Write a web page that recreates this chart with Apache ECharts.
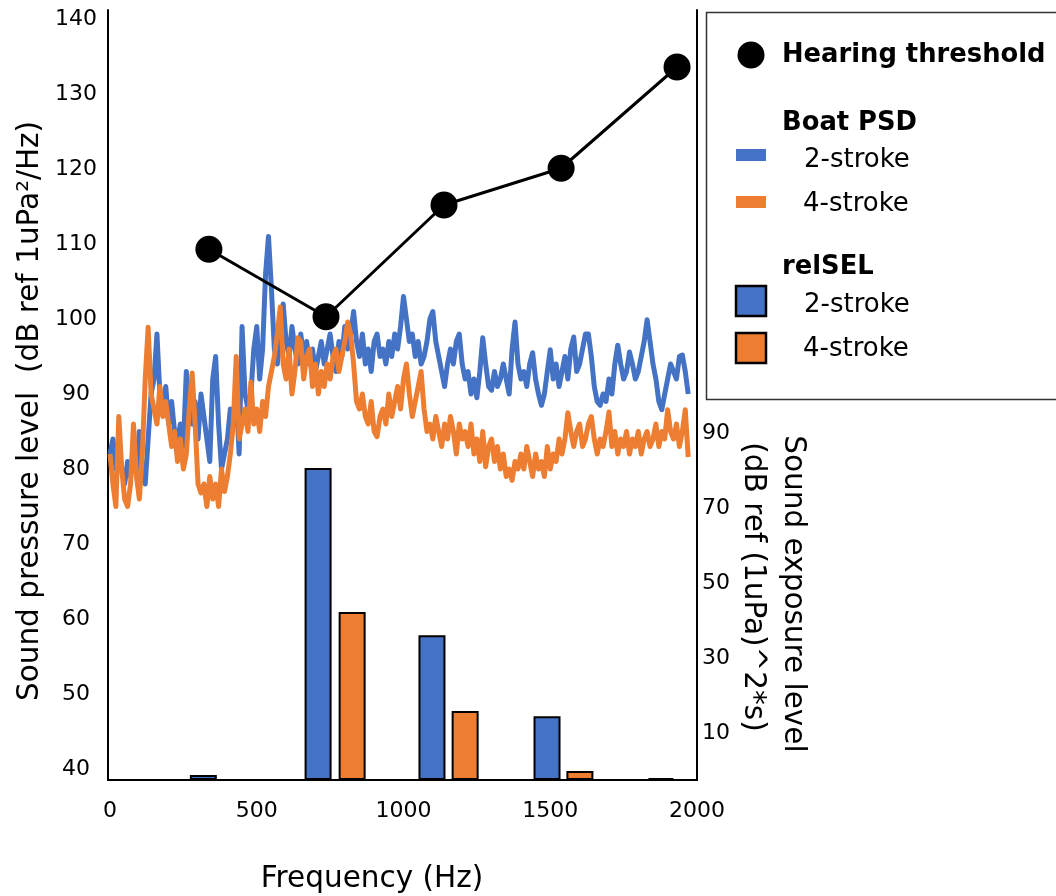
<!DOCTYPE html>
<html>
<head>
<meta charset="utf-8">
<title>Boat noise vs hearing threshold</title>
<script src="https://cdn.jsdelivr.net/npm/echarts@6/dist/echarts.min.js"></script>
<style>
  html, body { margin: 0; padding: 0; background: #fff; }
  #main { width: 1056px; height: 896px; }
</style>
</head>
<body>
<div id="main"></div>
<script>
// frequency grid of the PSD curves (Hz)
const psdFreq = [
  0, 10, 20, 30, 40, 50, 60, 70, 80, 90,
  100, 110, 120, 130, 140, 150, 160, 170, 180, 190,
  200, 210, 220, 230, 240, 250, 260, 270, 280, 290,
  300, 310, 320, 330, 340, 350, 360, 370, 380, 390,
  400, 410, 420, 430, 440, 450, 460, 470, 480, 490,
  500, 510, 520, 530, 540, 550, 560, 570, 580, 590,
  600, 610, 620, 630, 640, 650, 660, 670, 680, 690,
  700, 710, 720, 730, 740, 750, 760, 770, 780, 790,
  800, 810, 820, 830, 840, 850, 860, 870, 880, 890,
  900, 910, 920, 930, 940, 950, 960, 970, 980, 990,
  1000, 1010, 1020, 1030, 1040, 1050, 1060, 1070, 1080, 1090,
  1100, 1110, 1120, 1130, 1140, 1150, 1160, 1170, 1180, 1190,
  1200, 1210, 1220, 1230, 1240, 1250, 1260, 1270, 1280, 1290,
  1300, 1310, 1320, 1330, 1340, 1350, 1360, 1370, 1380, 1390,
  1400, 1410, 1420, 1430, 1440, 1450, 1460, 1470, 1480, 1490,
  1500, 1510, 1520, 1530, 1540, 1550, 1560, 1570, 1580, 1590,
  1600, 1610, 1620, 1630, 1640, 1650, 1660, 1670, 1680, 1690,
  1700, 1710, 1720, 1730, 1740, 1750, 1760, 1770, 1780, 1790,
  1800, 1810, 1820, 1830, 1840, 1850, 1860, 1870, 1880, 1890,
  1900, 1910, 1920, 1930, 1940, 1950, 1960, 1970
];

// Boat PSD, 2-stroke (dB ref 1uPa^2/Hz)
const psd2Stroke = [
  82, 84, 80, 83, 80, 78, 81, 79, 82, 80,
  85, 80, 78, 84, 90, 92, 98, 90, 88, 91,
  86, 89, 85, 84, 86, 83, 93, 88, 86, 89,
  84, 90, 87, 84, 81, 92, 95, 86, 80, 82,
  84, 88, 86, 90, 82, 99, 90, 88, 90, 96,
  99, 92, 96, 106, 111, 104, 96, 94, 98, 102,
  97, 95, 99, 96, 94, 98, 95, 97, 94, 96,
  93, 95, 97, 94, 96, 98, 95, 93, 97, 95,
  99, 96, 98, 101, 97, 95, 98, 94, 96, 93,
  97, 98, 95, 96, 94, 97, 95, 98, 96, 99,
  103, 100, 97, 98, 95, 97, 94, 95, 97, 100,
  101, 97, 95, 93, 91, 94, 96, 94, 97, 98,
  94, 92, 93, 90, 92, 89.5, 93, 97.5, 94, 91,
  90.5, 93, 91, 92, 94, 92, 90, 96, 99.6, 94,
  92, 93, 91, 94, 95.5, 92, 90, 88.5, 90, 93,
  95.9, 92, 94, 91, 93, 95, 92, 96, 97.6, 93,
  94, 96, 98, 98, 95, 91, 89, 88.5, 90, 89,
  92, 90, 94, 96.5, 94, 92, 93, 95.6, 94, 92,
  93, 95, 97, 99.9, 97, 94, 92, 89, 87.9, 90,
  92, 94, 93, 92, 95, 95.2, 93, 90
];

// Boat PSD, 4-stroke (dB ref 1uPa^2/Hz)
const psd4Stroke = [
  82, 78, 75, 87, 80, 76, 75, 78, 86, 79,
  76, 82, 92, 98.9, 90, 88, 86, 91, 87, 89,
  86, 83, 85, 81, 84, 80, 82, 88, 92.8, 86,
  78, 76.8, 78, 75, 79, 76, 78, 75, 80, 77,
  79, 82, 86, 95, 84, 86, 88, 85, 91.6, 86,
  88, 85, 89, 87, 91, 93, 95, 98, 101.6, 94,
  92, 96, 90, 93, 97.5, 97, 92, 95, 96, 91,
  94, 90, 93, 91, 94, 92, 95, 96, 93, 95,
  97, 99.6, 98, 94, 89, 88, 90, 87, 86, 89,
  85, 84.3, 87, 88, 86, 90, 87, 89, 91, 88,
  92, 94, 90, 87, 89, 91, 93, 88, 85, 86,
  84, 87, 85, 83, 86, 84, 87, 85, 82, 86,
  84, 85, 83, 86, 82, 84, 81, 85, 80.3, 83,
  84, 81, 83, 80, 82, 79, 80, 78.5, 81, 80,
  82, 80, 83, 81, 79, 82, 80, 81, 79, 83,
  80, 82, 81, 84, 82, 84, 87.5, 85, 83, 85,
  86, 83, 84, 86, 87, 84, 82, 84, 83, 85,
  87.6, 83, 85, 82, 84, 83, 85, 82, 84, 83,
  85, 82, 84, 85, 83, 84, 86, 83, 85, 84,
  87.9, 85, 84, 86, 83, 85, 87.9, 81.6
];

// hearing threshold (Hz, dB)
const thresholdFreq = [337, 736, 1138, 1537, 1932];
const thresholdLevel = [109.3, 100.3, 115.2, 120.1, 133.6];

// relSEL bars (Hz, dB ref (1uPa)^2*s)
const sel2Freq = [318, 709, 1097, 1489];
const sel2Value = [-1.2, 80.7, 36.1, 14.5];
const sel4Freq = [825, 1210, 1601, 1877];
const sel4Value = [42.3, 15.9, -0.1, -2.0];

const leftTicks = [40, 50, 60, 70, 80, 90, 100, 110, 120, 130, 140];
const rightTicks = [10, 30, 50, 70, 90];
const freqTicks = [0, 500, 1000, 1500, 2000];

const BLUE = "#4472c4";
const ORANGE = "#ed7d31";
const FONT = "DejaVu Sans";

function pairs(xs, ys) {
  return xs.map((x, i) => [x, ys[i]]);
}

let chartDom = document.getElementById("main");
let myChart = echarts.init(chartDom, null, { renderer: "canvas" });

let option = {
  animation: false,
  backgroundColor: "#fff",
  textStyle: { fontFamily: FONT, color: "#000" },
  grid: { left: 108, right: 359, top: 10, bottom: 116 },
  xAxis: {
    type: "value",
    min: -6.8,
    max: 2000,
    splitLine: { show: false },
    axisTick: { show: false },
    axisLine: { onZero: false, lineStyle: { color: "#000", width: 2 } },
    axisLabel: {
      customValues: freqTicks,
      formatter: (v) => String(v),
      fontSize: 22,
      fontFamily: FONT,
      color: "#000",
      margin: 20,
    },
  },
  yAxis: [
    {
      type: "value",
      min: 38.533,
      max: 141.2,
      splitLine: { show: false },
      axisTick: { show: false },
      axisLine: { show: true, onZero: false, lineStyle: { color: "#000", width: 2 } },
      axisLabel: {
        customValues: leftTicks,
        fontSize: 22,
        fontFamily: FONT,
        color: "#000",
        align: "center",
        margin: 32,
      },
    },
    {
      type: "value",
      position: "right",
      min: -2.533,
      max: 202.8,
      startValue: -2.533,
      splitLine: { show: false },
      axisTick: { show: false },
      axisLine: { show: true, onZero: false, lineStyle: { color: "#000", width: 2 } },
      axisLabel: {
        customValues: rightTicks,
        fontSize: 22,
        fontFamily: FONT,
        color: "#000",
        align: "left",
        margin: 5,
      },
    },
  ],
  series: [
    {
      name: "relSEL 2-stroke",
      type: "bar",
      yAxisIndex: 1,
      barWidth: 27,
      barGap: "-100%",
      itemStyle: { color: BLUE, borderColor: "#000", borderWidth: 2 },
      data: pairs(sel2Freq, sel2Value),
      z: 2,
    },
    {
      name: "relSEL 4-stroke",
      type: "bar",
      yAxisIndex: 1,
      barWidth: 27,
      barGap: "-100%",
      itemStyle: { color: ORANGE, borderColor: "#000", borderWidth: 2 },
      data: pairs(sel4Freq, sel4Value),
      z: 2,
    },
    {
      name: "PSD 2-stroke",
      type: "line",
      showSymbol: false,
      lineStyle: { color: BLUE, width: 5, join: "round" },
      data: pairs(psdFreq, psd2Stroke),
      z: 3,
    },
    {
      name: "PSD 4-stroke",
      type: "line",
      showSymbol: false,
      lineStyle: { color: ORANGE, width: 5, join: "round" },
      data: pairs(psdFreq, psd4Stroke),
      z: 4,
    },
    {
      name: "Hearing threshold",
      type: "line",
      symbol: "circle",
      symbolSize: 27,
      itemStyle: { color: "#000" },
      lineStyle: { color: "#000", width: 3 },
      data: pairs(thresholdFreq, thresholdLevel),
      z: 5,
    },
  ],
  graphic: [
    // axis titles
    {
      type: "text",
      x: 30,
      y: 411,
      rotation: Math.PI / 2,
      style: {
        text: "Sound pressure level  (dB ref 1uPa²/Hz)",
        font: "29.5px " + FONT,
        fill: "#000",
        align: "center",
        verticalAlign: "middle",
      },
    },
    {
      type: "text",
      x: 372,
      y: 879,
      style: {
        text: "Frequency (Hz)",
        font: "29.5px " + FONT,
        fill: "#000",
        align: "center",
        verticalAlign: "middle",
      },
    },
    {
      type: "text",
      x: 793,
      y: 594,
      rotation: -Math.PI / 2,
      style: {
        text: "Sound exposure level",
        font: "29.5px " + FONT,
        fill: "#000",
        align: "center",
        verticalAlign: "middle",
      },
    },
    {
      type: "text",
      x: 753,
      y: 587,
      rotation: -Math.PI / 2,
      style: {
        text: "(dB ref (1uPa)^2*s)",
        font: "29.5px " + FONT,
        fill: "#000",
        align: "center",
        verticalAlign: "middle",
      },
    },
    // legend box
    {
      type: "rect",
      shape: { x: 706.5, y: 12.5, width: 400, height: 387 },
      style: { fill: "#fff", stroke: "#333", lineWidth: 1.5 },
      z: 10,
    },
    {
      type: "circle",
      shape: { cx: 751, cy: 55, r: 13.5 },
      style: { fill: "#000" },
      z: 11,
    },
    {
      type: "text",
      x: 782,
      y: 55,
      style: { text: "Hearing threshold", font: "bold 25.8px " + FONT, fill: "#000", verticalAlign: "middle" },
      z: 11,
    },
    {
      type: "text",
      x: 782,
      y: 123,
      style: { text: "Boat PSD", font: "bold 25.8px " + FONT, fill: "#000", verticalAlign: "middle" },
      z: 11,
    },
    {
      type: "rect",
      shape: { x: 736, y: 149, width: 30, height: 12 },
      style: { fill: BLUE },
      z: 11,
    },
    {
      type: "text",
      x: 804,
      y: 160,
      style: { text: "2-stroke", font: "26px " + FONT, fill: "#000", verticalAlign: "middle" },
      z: 11,
    },
    {
      type: "rect",
      shape: { x: 736, y: 196, width: 30, height: 12 },
      style: { fill: ORANGE },
      z: 11,
    },
    {
      type: "text",
      x: 803,
      y: 204,
      style: { text: "4-stroke", font: "26px " + FONT, fill: "#000", verticalAlign: "middle" },
      z: 11,
    },
    {
      type: "text",
      x: 782,
      y: 267,
      style: { text: "relSEL", font: "bold 25.8px " + FONT, fill: "#000", verticalAlign: "middle" },
      z: 11,
    },
    {
      type: "rect",
      shape: { x: 736, y: 286, width: 30, height: 30 },
      style: { fill: BLUE, stroke: "#000", lineWidth: 2.5 },
      z: 11,
    },
    {
      type: "text",
      x: 804,
      y: 305,
      style: { text: "2-stroke", font: "26px " + FONT, fill: "#000", verticalAlign: "middle" },
      z: 11,
    },
    {
      type: "rect",
      shape: { x: 736, y: 333, width: 30, height: 30 },
      style: { fill: ORANGE, stroke: "#000", lineWidth: 2.5 },
      z: 11,
    },
    {
      type: "text",
      x: 803,
      y: 349,
      style: { text: "4-stroke", font: "26px " + FONT, fill: "#000", verticalAlign: "middle" },
      z: 11,
    },
  ],
};

option && myChart.setOption(option);
</script>
</body>
</html>
